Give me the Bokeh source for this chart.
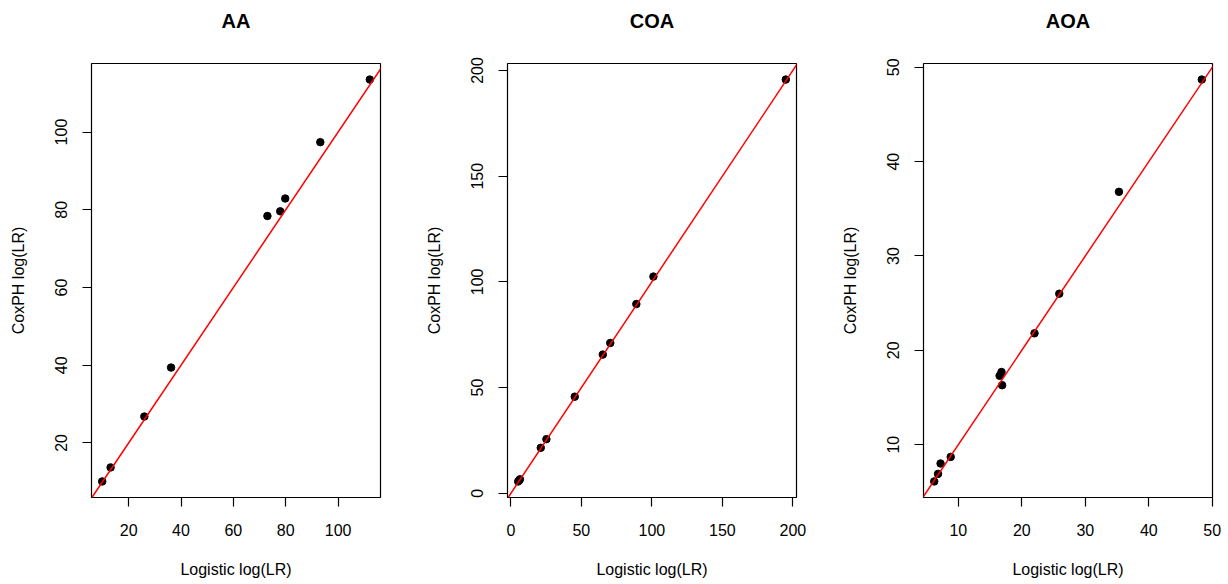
from bokeh.plotting import figure
from bokeh.layouts import row
from bokeh.models import Range1d, FixedTicker, Slope, Title
from bokeh.embed import file_html
from bokeh.resources import INLINE

# ---- data ----
titles = ["AA", "COA", "AOA"]

aa_logistic = [9.9, 13.1, 26.0, 36.2, 73.0, 77.9, 79.8, 93.2, 112.1]
aa_coxph = [10.1, 13.7, 26.8, 39.4, 78.4, 79.6, 82.9, 97.4, 113.5]

coa_logistic = [5.2, 5.8, 6.4, 21.2, 25.2, 45.3, 65.2, 70.5, 89.0, 101.1, 195.0]
coa_coxph = [5.6, 6.0, 6.6, 21.5, 25.6, 45.7, 65.6, 71.1, 89.5, 102.5, 195.7]

aoa_logistic = [6.2, 6.8, 7.2, 8.8, 16.5, 16.8, 16.9, 22.0, 25.9, 35.3, 48.35]
aoa_coxph = [6.1, 6.9, 8.0, 8.7, 17.3, 17.7, 16.3, 21.8, 26.0, 36.8, 48.7]

aa_xticks = [20, 40, 60, 80, 100]
aa_yticks = [20, 40, 60, 80, 100]
coa_xticks = [0, 50, 100, 150, 200]
coa_yticks = [0, 50, 100, 150, 200]
aoa_xticks = [10, 20, 30, 40, 50]
aoa_yticks = [10, 20, 30, 40, 50]

xlabel = "Logistic log(LR)"
ylabel = "CoxPH log(LR)"

FONT = "Liberation Sans"


def r_range(vals):
    lo, hi = min(vals), max(vals)
    pad = 0.04 * (hi - lo)
    return Range1d(lo - pad, hi + pad)


def panel(title, xs, ys, xticks, yticks, width, left, right):
    p = figure(width=width, height=584, output_backend="svg", toolbar_location=None,
               x_range=r_range(xs), y_range=r_range(ys),
               min_border_left=left, min_border_right=right,
               min_border_top=63, min_border_bottom=87, title=None)
    p.background_fill_color = "white"
    p.border_fill_color = "white"
    p.outline_line_color = "black"
    p.outline_line_width = 1.2
    p.grid.visible = False

    # spacer title nearest the frame, then the real title above it
    p.add_layout(Title(text=" ", text_font=FONT, text_font_size="13px"), "above")
    p.add_layout(Title(text=title, align="center", text_font=FONT, text_font_size="20px",
                       text_font_style="bold", text_color="black"), "above")

    for ax, ticks, lab in ((p.xaxis[0], xticks, xlabel), (p.yaxis[0], yticks, ylabel)):
        ax.ticker = FixedTicker(ticks=ticks)
        ax.minor_tick_line_color = None
        ax.major_tick_in = 0
        ax.major_tick_out = 9
        ax.major_tick_line_color = "black"
        ax.major_tick_line_width = 1.2
        ax.axis_line_color = None
        ax.major_label_text_font = FONT
        ax.major_label_text_font_size = "16px"
        ax.major_label_text_color = "black"
        ax.axis_label = lab
        ax.axis_label_text_font = FONT
        ax.axis_label_text_font_size = "16px"
        ax.axis_label_text_font_style = "normal"
        ax.axis_label_text_color = "black"
    p.xaxis.major_label_standoff = 17
    p.xaxis.axis_label_standoff = 22
    p.yaxis.major_label_orientation = "parallel"
    p.yaxis.major_label_standoff = 15
    p.yaxis.axis_label_standoff = 26

    p.add_layout(Slope(gradient=1, y_intercept=0, line_color="red", line_width=1.5))
    p.scatter(xs, ys, size=7.5, fill_color="black", line_color="black")
    return p


p1 = panel(titles[0], aa_logistic, aa_coxph, aa_xticks, aa_yticks, 409, 91, 29)
p2 = panel(titles[1], coa_logistic, coa_coxph, coa_xticks, coa_yticks, 410, 98, 23)
p3 = panel(titles[2], aoa_logistic, aoa_coxph, aoa_xticks, aoa_yticks, 409, 104, 16)

layout = row(p1, p2, p3)
open("out.html", "w").write(file_html(layout, INLINE))
